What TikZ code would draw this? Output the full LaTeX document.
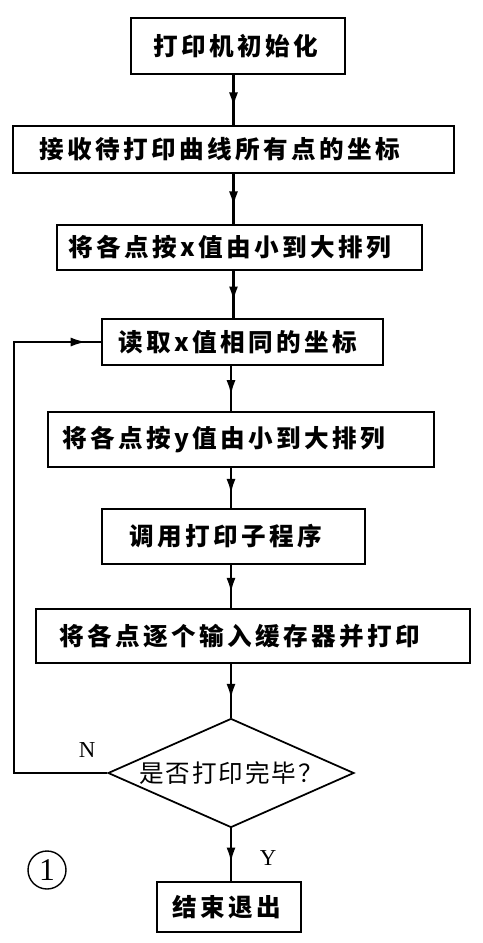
\documentclass[tikz,border=0pt]{standalone}
\usepackage{fontspec}
\setmainfont{Liberation Serif}
\newfontfamily\cjk[LetterSpace=14]{Noto Sans CJK SC}
\newfontfamily\cjkq[LetterSpace=8]{Noto Sans CJK SC}
\usetikzlibrary{shapes.geometric,arrows.meta,decorations.markings}

\begin{document}
\begin{tikzpicture}[x=0.02cm, y=-0.02cm,
    box/.style={draw, line width=1.2pt, inner ysep=0pt, align=left,
        font=\cjk\bfseries\fontsize{14}{16}\selectfont},
    flow/.style={line width=1.4pt, postaction={decorate},
        decoration={markings, mark=at position 0.65 with {\arrow{Latex[length=3mm,width=1.8mm]}}}},
    back/.style={line width=1pt, postaction={decorate},
        decoration={markings, mark=at position 0.975 with {\arrow{Latex[length=3mm,width=1.8mm]}}}},
    yn/.style={font=\fontsize{13}{15}\selectfont}]
    \useasboundingbox (0,0) rectangle (483,943);
    % Nodes
    \node[box, minimum height=1.12cm, text width=3.40cm, inner xsep=0.44cm] (init) at (238,46) {打印机初始化};
    \node[box, minimum height=0.94cm, text width=7.78cm, inner xsep=0.52cm] (recv) at (233.5,149.5) {接收待打印曲线所有点的坐标};
    \node[box, minimum height=0.90cm, text width=6.86cm, inner xsep=0.22cm] (sortx) at (239.5,247.5) {将各点按x值由小到大排列};
    \node[box, minimum height=0.92cm, text width=4.98cm, inner xsep=0.32cm] (read) at (242.5,342) {读取x值相同的坐标};
    \node[box, minimum height=1.10cm, text width=7.16cm, inner xsep=0.28cm] (sorty) at (241,439.5) {将各点按y值由小到大排列};
    \node[box, minimum height=1.10cm, text width=4.18cm, inner xsep=0.54cm] (call) at (233.5,536.5) {调用打印子程序};
    \node[box, minimum height=1.08cm, text width=7.76cm, inner xsep=0.46cm] (feed) at (253,636) {将各点逐个输入缓存器并打印};
    \node[diamond, draw, line width=1pt, inner sep=0pt, aspect=2.26,
        minimum width=4.92cm, minimum height=2.18cm,
        font=\cjkq\fontsize{14}{16}\selectfont] (dec) at (231,773) {是否打印完毕？};
    \node[box, minimum height=1.00cm, text width=2.28cm, inner xsep=0.30cm] (quit) at (229,907) {结束退出};
    \node[yn] (nlab) at (87,750) {N};
    \node[yn] (ylab) at (268,858) {Y};
    \node[circle, draw, line width=0.8pt, minimum size=0.76cm, inner sep=0pt,
        font=\fontsize{18}{20}\selectfont] (fig) at (47,870) {1};
    \coordinate (turn) at (14,773);
    % Edges
    \draw[flow] (init.south -| recv.north) -- (recv.north);
    \draw[flow] (recv.south) -- (recv.south |- sortx.north);
    \draw[flow] (sortx.south -| recv.south) -- (read.north -| recv.south);
    \draw[flow] (read.south -| dec.north) -- (sorty.north -| dec.north);
    \draw[flow] (sorty.south -| dec.north) -- (call.north -| dec.north);
    \draw[flow] (call.south -| dec.north) -- (feed.north -| dec.north);
    \draw[flow] (feed.south -| dec.north) -- (dec.north);
    \draw[flow] (dec.south) -- (dec.south |- quit.north);
    \draw[back] (dec.west) -- (turn) |- (read.west);
\end{tikzpicture}
\end{document}
